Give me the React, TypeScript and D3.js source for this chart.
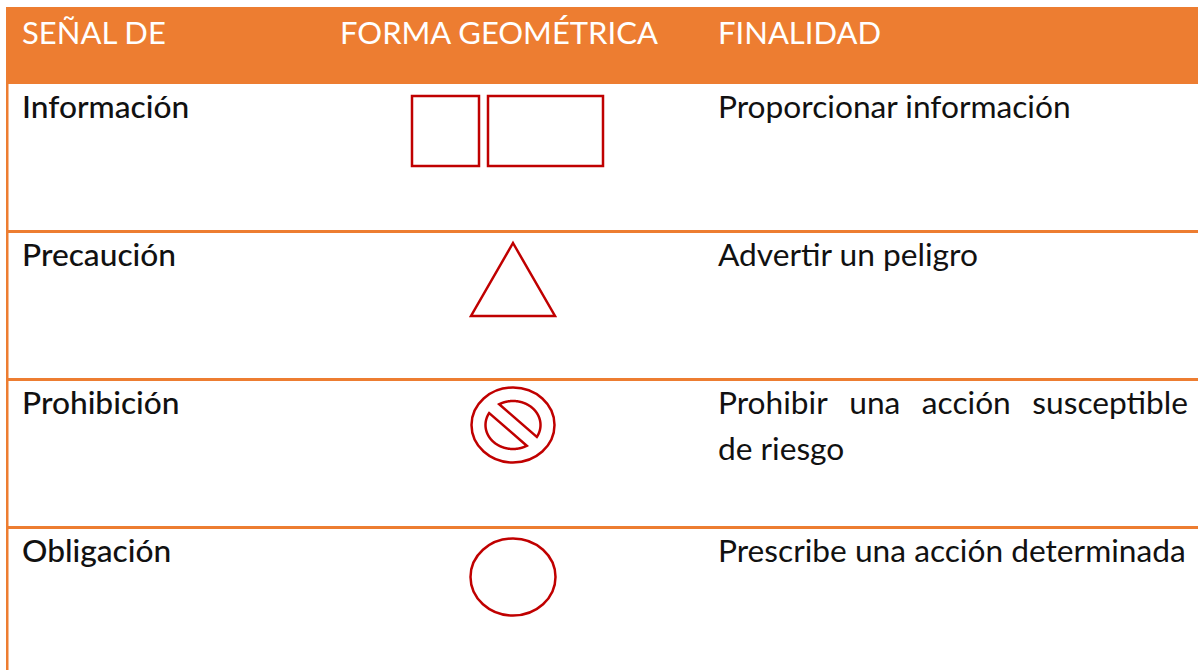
import React, { useEffect, useRef } from "react";
import * as d3 from "d3";

const columns = ["SEÑAL DE", "FORMA GEOMÉTRICA", "FINALIDAD"];
const signals = ["Información", "Precaución", "Prohibición", "Obligación"];
const shapes = ["rectangles", "triangle", "prohibition", "circle"];
const purposes: string[][] = [
  ["Proporcionar información"],
  ["Advertir un peligro"],
  ["Prohibir una acción susceptible", "de riesgo"],
  ["Prescribe una acción determinada"],
];
// which purpose lines are justified (fully spread to column edge)
const justified: boolean[][] = [[false], [false], [true, false], [false]];

const W = 1198;
const H = 670;
const ORANGE = "#ED7D31";
const RED = "#C00000";
const FONT = "Lato, 'Open Sans', sans-serif";

export default function App() {
  const ref = useRef<SVGSVGElement | null>(null);

  useEffect(() => {
    const svg = d3.select(ref.current);
    svg.selectAll("*").remove();

    const headerTop = 7;
    const headerBottom = 84;
    const rowH = 148;
    const rowY = d3.scaleLinear().domain([0, 1]).range([headerBottom, headerBottom + rowH]);
    const colX = d3.scaleOrdinal<number, number>().domain([0, 1, 2]).range([22, 340, 718]);
    const colRight = W - 10;
    const shapeCx = 513;
    const bodySize = 31.7;

    svg.append("rect").attr("x", 0).attr("y", 0).attr("width", W).attr("height", H).attr("fill", "#fff");

    // header
    svg.append("rect")
      .attr("x", 6).attr("y", headerTop)
      .attr("width", W - 6).attr("height", headerBottom - headerTop)
      .attr("fill", ORANGE);
    // left border
    svg.append("rect").attr("x", 6).attr("y", headerTop).attr("width", 2.5).attr("height", H - headerTop).attr("fill", ORANGE);

    svg.selectAll("text.hdr").data(columns).join("text")
      .attr("class", "hdr")
      .attr("x", (_, i) => colX(i))
      .attr("y", 44)
      .attr("fill", "#fff")
      .attr("font-family", FONT)
      .attr("font-weight", 400)
      .attr("font-size", 31)
      .text(d => d);

    // row separators
    svg.selectAll("rect.sep").data(signals.slice(1)).join("rect")
      .attr("class", "sep")
      .attr("x", 6)
      .attr("y", (_, i) => rowY(i + 1) - 2)
      .attr("width", W - 6)
      .attr("height", 3)
      .attr("fill", ORANGE);

    // labels
    svg.selectAll("text.lbl").data(signals).join("text")
      .attr("class", "lbl")
      .attr("x", colX(0))
      .attr("y", (_, i) => rowY(i) + 34)
      .attr("fill", "#111")
      .attr("font-family", FONT)
      .attr("font-weight", 500)
      .attr("font-size", bodySize)
      .text(d => d);

    // purposes
    purposes.forEach((lines, i) => {
      lines.forEach((line, j) => {
        const y = rowY(i) + 34 + j * 46;
        if (justified[i][j]) {
          const words = line.split(" ");
          const g = svg.append("g");
          const nodes = words.map(w =>
            g.append("text")
              .attr("y", y)
              .attr("fill", "#111")
              .attr("font-family", FONT)
              .attr("font-size", bodySize)
              .text(w)
          );
          const widths = nodes.map(n => (n.node() as SVGTextElement).getComputedTextLength());
          const total = d3.sum(widths);
          const gap = (colRight - colX(2) - total) / (words.length - 1);
          let x = colX(2);
          nodes.forEach((n, k) => {
            n.attr("x", x);
            x += widths[k] + gap;
          });
        } else {
          svg.append("text")
            .attr("x", colX(2))
            .attr("y", y)
            .attr("fill", "#111")
            .attr("font-family", FONT)
            .attr("font-size", bodySize)
            .text(line);
        }
      });
    });

    // shapes
    const sg = svg.append("g").attr("fill", "none").attr("stroke", RED).attr("stroke-width", 2.5);
    shapes.forEach((s, i) => {
      const cy = rowY(i) + 47;
      const cx = shapeCx;
      if (s === "rectangles") {
        sg.append("rect").attr("x", cx - 101).attr("y", cy - 35).attr("width", 67).attr("height", 70);
        sg.append("rect").attr("x", cx - 25).attr("y", cy - 35).attr("width", 115).attr("height", 70);
      } else if (s === "triangle") {
        const pts: [number, number][] = [[cx, cy - 36], [cx + 42, cy + 37], [cx - 42, cy + 37]];
        sg.append("path").attr("d", d3.line()(pts) + "Z").attr("stroke-linejoin", "miter");
      } else if (s === "prohibition") {
        const pcy = cy - 2;
        sg.append("ellipse").attr("cx", cx).attr("cy", pcy).attr("rx", 41.5).attr("ry", 37.5);
        const rx = 27.5, ry = 24;
        const n: [number, number] = [0.655, -0.755];
        const h = 6.5;
        const thetaN = Math.atan2(n[1], n[0]);
        const N = 720;
        const half = (start: number, keep: (sv: number) => boolean) => {
          const pts: [number, number][] = [];
          for (let k = 0; k <= N; k++) {
            const t = start + (k / N) * Math.PI * 2;
            const px = cx + rx * Math.cos(t);
            const py = pcy + ry * Math.sin(t);
            const sv = (px - cx) * n[0] + (py - pcy) * n[1];
            if (keep(sv)) pts.push([px, py]);
          }
          return d3.line()(pts) + "Z";
        };
        sg.append("path").attr("d", half(thetaN - Math.PI, sv => sv > h));
        sg.append("path").attr("d", half(thetaN, sv => sv < -h));
      } else if (s === "circle") {
        sg.append("ellipse").attr("cx", cx).attr("cy", cy + 2).attr("rx", 42.5).attr("ry", 38.5);
      }
    });
  }, []);

  return (
    <svg
      ref={ref}
      width={W}
      height={H}
      style={{ position: "absolute", left: 0, top: 0, display: "block" }}
    />
  );
}
